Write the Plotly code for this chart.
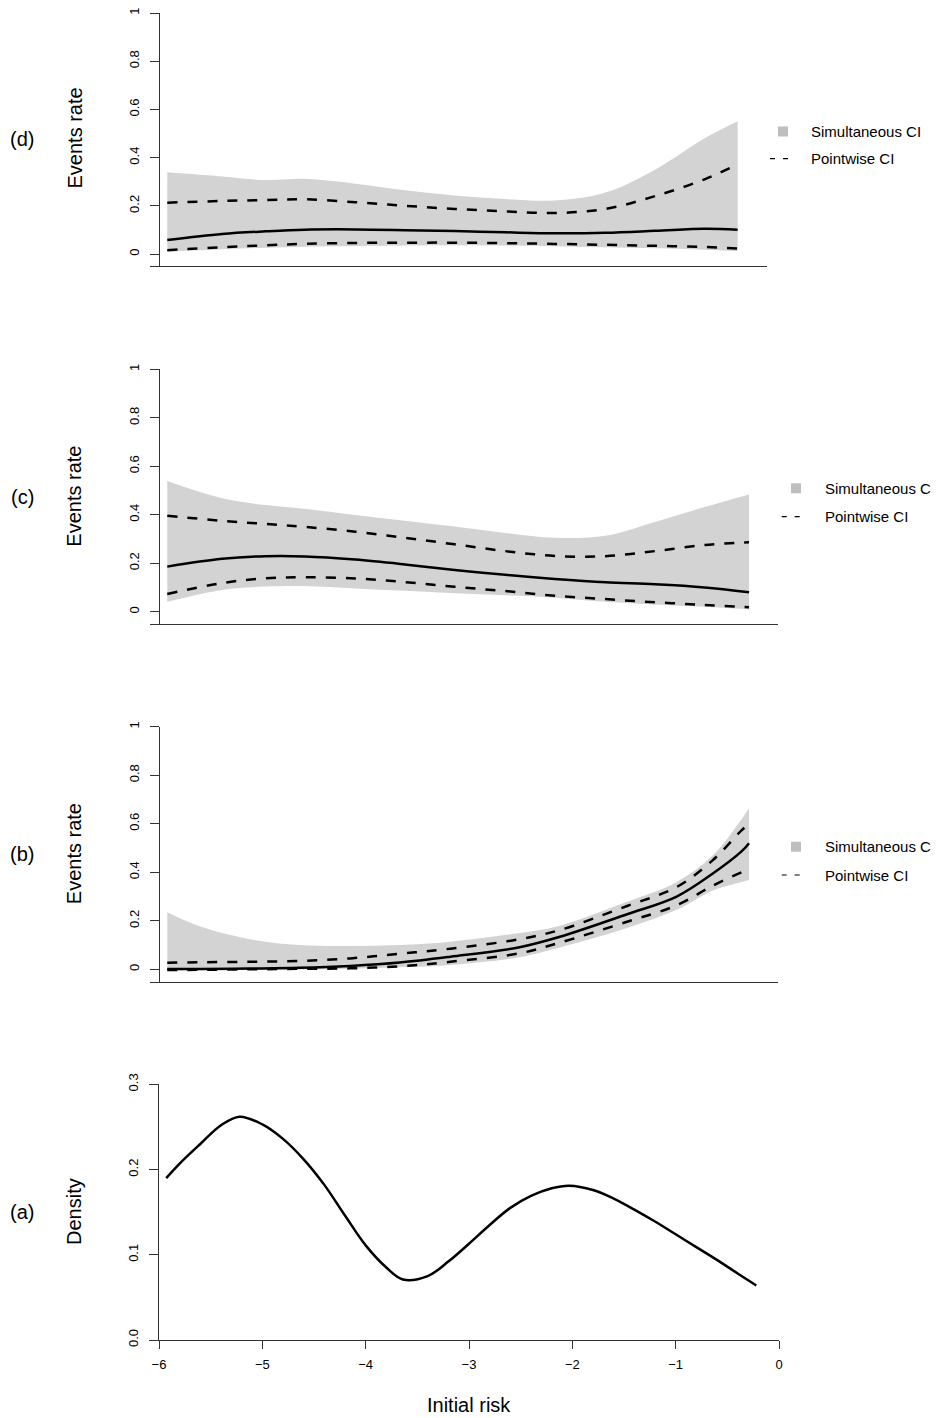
import plotly.graph_objects as go

# ---------------- data ----------------
# panel (d)
x_d = [-5.92, -5.39, -4.97, -4.59, -4.10, -3.62, -3.14, -2.65, -2.17, -1.68, -1.20, -0.72, -0.40]
d_sim_up = [0.339, 0.322, 0.307, 0.312, 0.292, 0.265, 0.243, 0.228, 0.222, 0.255, 0.350, 0.480, 0.551]
d_pw_up = [0.213, 0.220, 0.224, 0.227, 0.215, 0.200, 0.187, 0.177, 0.170, 0.187, 0.240, 0.310, 0.373]
d_est = [0.058, 0.083, 0.094, 0.101, 0.102, 0.099, 0.095, 0.090, 0.086, 0.088, 0.096, 0.105, 0.101]
d_pw_lo = [0.016, 0.028, 0.036, 0.042, 0.046, 0.047, 0.047, 0.045, 0.042, 0.038, 0.034, 0.029, 0.023]
d_sim_lo = [0.010, 0.020, 0.026, 0.030, 0.033, 0.035, 0.036, 0.035, 0.032, 0.028, 0.024, 0.018, 0.012]

# panel (c)
x_c = [-5.92, -5.39, -4.97, -4.59, -4.10, -3.62, -3.14, -2.65, -2.17, -1.68, -1.20, -0.72, -0.29]
c_sim_up = [0.539, 0.468, 0.440, 0.425, 0.399, 0.375, 0.351, 0.325, 0.305, 0.313, 0.370, 0.432, 0.484]
c_pw_up = [0.396, 0.375, 0.362, 0.350, 0.330, 0.305, 0.278, 0.250, 0.230, 0.229, 0.250, 0.275, 0.286]
c_est = [0.186, 0.218, 0.229, 0.228, 0.215, 0.195, 0.172, 0.152, 0.135, 0.121, 0.113, 0.100, 0.080]
c_pw_lo = [0.073, 0.118, 0.138, 0.142, 0.137, 0.122, 0.103, 0.085, 0.066, 0.052, 0.039, 0.028, 0.018]
c_sim_lo = [0.041, 0.090, 0.104, 0.106, 0.096, 0.086, 0.076, 0.068, 0.058, 0.041, 0.030, 0.020, 0.010]

# panel (b)
x_b = [-5.92, -5.60, -5.12, -4.64, -4.15, -3.67, -3.18, -2.51, -2.12, -1.47, -0.99, -0.64, -0.36, -0.29]
b_sim_up = [0.235, 0.176, 0.124, 0.100, 0.096, 0.100, 0.114, 0.150, 0.180, 0.278, 0.360, 0.470, 0.620, 0.664]
b_pw_up = [0.027, 0.029, 0.031, 0.034, 0.045, 0.064, 0.085, 0.124, 0.162, 0.261, 0.339, 0.450, 0.574, 0.600]
b_est = [0.001, 0.001, 0.003, 0.006, 0.014, 0.028, 0.052, 0.091, 0.134, 0.227, 0.300, 0.395, 0.487, 0.520]
b_pw_lo = [-0.003, -0.002, 0.000, 0.002, 0.004, 0.012, 0.031, 0.066, 0.110, 0.196, 0.264, 0.345, 0.400, 0.410]
b_sim_lo = [-0.005, -0.004, -0.003, -0.001, 0.002, 0.008, 0.018, 0.050, 0.090, 0.170, 0.245, 0.325, 0.360, 0.368]

# panel (a) density
x_a = [-5.93, -5.8, -5.6, -5.4, -5.22, -5.0, -4.8, -4.6, -4.4, -4.2, -4.0, -3.8, -3.64, -3.4,
       -3.2, -3.0, -2.8, -2.6, -2.4, -2.2, -2.03, -1.8, -1.6, -1.4, -1.2, -1.0, -0.8, -0.6,
       -0.4, -0.22]
dens = [0.190, 0.207, 0.230, 0.252, 0.262, 0.253, 0.236, 0.212, 0.182, 0.146, 0.111, 0.085,
        0.071, 0.075, 0.092, 0.113, 0.135, 0.155, 0.169, 0.178, 0.181, 0.176, 0.166, 0.153,
        0.139, 0.124, 0.109, 0.094, 0.078, 0.064]

x_ticks = [-6, -5, -4, -3, -2, -1, 0]
x_tick_text = ["\u22126", "\u22125", "\u22124", "\u22123", "\u22122", "\u22121", "0"]
rate_ticks = [0, 0.2, 0.4, 0.6, 0.8, 1]
rate_tick_text = ["0", "0.2", "0.4", "0.6", "0.8", "1"]
dens_ticks = [0, 0.1, 0.2, 0.3]
dens_tick_text = ["0.0", "0.1", "0.2", "0.3"]
panel_labels = ["(d)", "(c)", "(b)", "(a)"]
legend_labels = ["Simultaneous CI", "Pointwise CI"]

# ---------------- geometry helpers ----------------
# the page body adds an 8px margin, so the figure is shifted by OFF
OFF = 8
W, H = 940 - OFF, 1418 - OFF
FONT = "Liberation Sans, Arial, Helvetica, sans-serif"
AXC = "#333333"


def fx(p):
    return (p - OFF) / W


def fy(p):
    return 1 - (p - OFF) / H


X0_PX, PX_PER_UNIT = 159.0, 103.33


def risk_at(p):
    return -6 + (p - X0_PX) / PX_PER_UNIT


fig = go.Figure()

BAND = "#d3d3d3"
LW = 2.5
DASH = "10px,10px"


def add_panel(xs, sim_lo, sim_up, pw_lo, pw_up, est, xa, ya):
    fig.add_trace(go.Scatter(x=xs, y=sim_lo, mode="lines", line=dict(width=0, shape="spline"),
                             xaxis=xa, yaxis=ya, showlegend=False, hoverinfo="skip"))
    fig.add_trace(go.Scatter(x=xs, y=sim_up, mode="lines", line=dict(width=0, shape="spline"),
                             fill="tonexty", fillcolor=BAND,
                             xaxis=xa, yaxis=ya, showlegend=False, hoverinfo="skip"))
    for ys in (pw_up, pw_lo):
        fig.add_trace(go.Scatter(x=xs, y=ys, mode="lines",
                                 line=dict(color="black", width=LW, dash=DASH, shape="spline"),
                                 xaxis=xa, yaxis=ya, showlegend=False))
    fig.add_trace(go.Scatter(x=xs, y=est, mode="lines",
                             line=dict(color="black", width=LW, shape="spline"),
                             xaxis=xa, yaxis=ya, showlegend=False))


add_panel(x_d, d_sim_lo, d_sim_up, d_pw_lo, d_pw_up, d_est, "x4", "y4")
add_panel(x_c, c_sim_lo, c_sim_up, c_pw_lo, c_pw_up, c_est, "x3", "y3")
add_panel(x_b, b_sim_lo, b_sim_up, b_pw_lo, b_pw_up, b_est, "x2", "y2")
fig.add_trace(go.Scatter(x=x_a, y=dens, mode="lines",
                         line=dict(color="black", width=LW, shape="spline"),
                         xaxis="x", yaxis="y", showlegend=False))

tickfont = dict(family=FONT, size=13, color="black")

layout = dict(
    width=W, height=H, margin=dict(l=0, r=0, t=0, b=0, autoexpand=False),
    paper_bgcolor="white", plot_bgcolor="white", showlegend=False,
    font=dict(family=FONT, color="black"),
)

# panel (a)
layout["xaxis"] = dict(domain=[fx(159), fx(779)], range=[-6, 0], anchor="y",
                       showline=True, linecolor=AXC, linewidth=1, ticks="outside", ticklen=8,
                       tickcolor=AXC, tickvals=x_ticks, ticktext=x_tick_text, tickfont=tickfont,
                       showgrid=False, zeroline=False, ticklabelstandoff=4, automargin=False,
                       ticklabeloverflow="allow")
layout["yaxis"] = dict(domain=[fy(1340), fy(1084.3)], range=[0, 0.3], anchor="x",
                       showline=True, linecolor=AXC, linewidth=1, ticks="outside", ticklen=9,
                       tickcolor=AXC, tickvals=dens_ticks, ticktext=dens_tick_text,
                       tickfont=tickfont, tickangle=-90, showgrid=False, zeroline=False,
                       ticklabelstandoff=6, automargin=False, ticklabeloverflow="allow")

# rate panels: (index, y px of 1, y px of 0, bottom line px, right edge px)
rate_panels = [(2, 726.7, 969.3, 981.7, 778), (3, 369.3, 611.7, 624, 778), (4, 13, 254, 266, 767)]
for idx, p1, p0, pb, pr in rate_panels:
    per = (p0 - p1)
    ymin = -(pb - p0) / per
    layout[f"xaxis{idx}"] = dict(domain=[fx(150), fx(pr)], range=[risk_at(150), risk_at(pr)],
                                 anchor=f"y{idx}", showline=True, linecolor=AXC, linewidth=1,
                                 ticks="", showticklabels=False, showgrid=False, zeroline=False,
                                 automargin=False)
    layout[f"yaxis{idx}"] = dict(domain=[fy(pb), fy(p1)], range=[ymin, 1], anchor="free",
                                 position=fx(159), showline=True, linecolor=AXC, linewidth=1,
                                 ticks="outside", ticklen=9, tickcolor=AXC,
                                 tickvals=rate_ticks, ticktext=rate_tick_text, tickfont=tickfont,
                                 tickangle=-90, showgrid=False, zeroline=False,
                                 ticklabelstandoff=6, automargin=False,
                                 ticklabeloverflow="allow")

fig.update_layout(**layout)

annotations = []
shapes = []
centres = [138.5, 496.7, 854.2, 1212]
titles = ["Events rate", "Events rate", "Events rate", "Density"]
for lab, cy, ttl in zip(panel_labels, centres, titles):
    annotations.append(dict(x=fx(22), y=fy(cy), xref="paper", yref="paper", text=lab,
                            showarrow=False, font=dict(size=20, family=FONT, color="black"),
                            xanchor="center", yanchor="middle"))
    annotations.append(dict(x=fx(74), y=fy(cy), xref="paper", yref="paper", text=ttl,
                            showarrow=False, textangle=-90,
                            font=dict(size=20, family=FONT, color="black"),
                            xanchor="center", yanchor="middle"))

annotations.append(dict(x=fx(469), y=fy(1405), xref="paper", yref="paper", text="Initial risk",
                        showarrow=False, font=dict(size=20, family=FONT, color="black"),
                        xanchor="center", yanchor="middle"))

# legends: (square centre x, text left x, row1 y, row2 y, dash x0, dash x1)
legends = [(783, 809.3, 131.5, 158.7, 770, 788.3),
           (796, 823.3, 488.3, 516.7, 781.7, 800),
           (796, 823.3, 846.7, 875, 781.7, 800)]
for sqx, tx, y1, y2, dx0, dx1 in legends:
    shapes.append(dict(type="rect", xref="paper", yref="paper",
                       x0=fx(sqx - 5), x1=fx(sqx + 5), y0=fy(y1 + 5), y1=fy(y1 - 5),
                       fillcolor="#bebebe", line=dict(width=0)))
    shapes.append(dict(type="line", xref="paper", yref="paper",
                       x0=fx(dx0), x1=fx(dx1), y0=fy(y2), y1=fy(y2),
                       line=dict(color="black", width=1.2, dash="5px,8px")))
    annotations.append(dict(x=fx(tx), y=fy(y1), xref="paper", yref="paper",
                            text=legend_labels[0], showarrow=False, xanchor="left",
                            yanchor="middle", font=dict(size=15, family=FONT, color="black")))
    annotations.append(dict(x=fx(tx), y=fy(y2), xref="paper", yref="paper",
                            text=legend_labels[1], showarrow=False, xanchor="left",
                            yanchor="middle", font=dict(size=15, family=FONT, color="black")))

fig.update_layout(annotations=annotations, shapes=shapes)

fig.write_html("out.html")
